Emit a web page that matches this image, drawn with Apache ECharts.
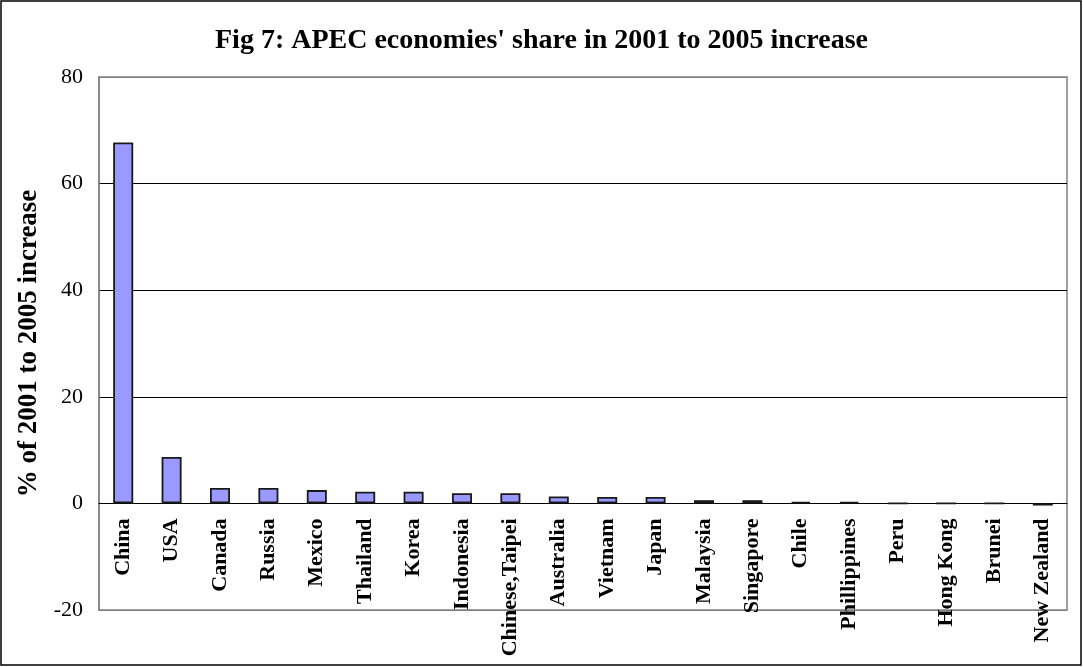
<!DOCTYPE html>
<html>
<head>
<meta charset="utf-8">
<script src="https://cdn.jsdelivr.net/npm/echarts@6/dist/echarts.min.js"></script>
<style>
html,body{margin:0;padding:0;background:#fff;}
#chart{width:1083px;height:667px;}
</style>
</head>
<body>
<div id="chart"></div>
<script>
var titleText = "Fig 7: APEC economies' share in 2001 to 2005 increase";
var yAxisTitle = "% of 2001 to 2005 increase";
var categories = ["China","USA","Canada","Russia","Mexico","Thailand","Korea","Indonesia","Chinese,Taipei","Australia","Vietnam","Japan","Malaysia","Singapore","Chile","Phillippines","Peru","Hong Kong","Brunei","New Zealand"];
var shares = [67.7, 8.7, 2.9, 2.9, 2.5, 2.2, 2.2, 1.9, 1.9, 1.3, 1.2, 1.2, 0.6, 0.6, 0.3, 0.3, 0, 0, 0, -0.4];
var yMin = -20, yMax = 80, yStep = 20;

var W = 1083, H = 667;
var gridLeft = 99, gridRight = 16, gridTop = 77, gridBottom = 57;
var plotH = H - gridTop - gridBottom;
// move the category axis (line + labels) up to the value-axis zero position
var zeroOffset = -((0 - yMin) / (yMax - yMin)) * plotH;

var chart = echarts.init(document.getElementById('chart'), null, {renderer: 'canvas'});
chart.setOption({
  animation: false,
  backgroundColor: '#fff',
  title: {
    text: titleText,
    left: 'center',
    top: 22,
    textStyle: {fontFamily: 'Liberation Serif', fontWeight: 'bold', fontSize: 28, color: '#000'}
  },
  graphic: [{
    type: 'rect',
    shape: {x: 1, y: 1, width: W - 3, height: H - 3},
    style: {fill: 'none', stroke: '#000', lineWidth: 1.5},
    silent: true, z: 100
  }],
  grid: {
    left: gridLeft, right: gridRight, top: gridTop, bottom: gridBottom,
    outerBoundsMode: 'none',
    containLabel: false,
    show: true, borderColor: '#808080', borderWidth: 1.5, backgroundColor: '#fff'
  },
  xAxis: {
    type: 'category',
    data: categories,
    position: 'bottom',
    offset: zeroOffset,
    axisLine: {onZero: false, lineStyle: {color: '#000', width: 1}},
    axisTick: {show: false},
    axisLabel: {
      interval: 0, rotate: 90, margin: 15,
      fontFamily: 'Liberation Serif', fontWeight: 'bold', fontSize: 22, color: '#000'
    }
  },
  yAxis: {
    type: 'value',
    min: yMin, max: yMax, interval: yStep,
    name: yAxisTitle,
    nameLocation: 'middle',
    nameGap: 55,
    nameTextStyle: {fontFamily: 'Liberation Serif', fontWeight: 'bold', fontSize: 27, color: '#000'},
    axisLine: {show: true, onZero: false, lineStyle: {color: '#808080', width: 1.5}},
    axisTick: {show: false},
    axisLabel: {margin: 16, fontFamily: 'Liberation Serif', fontSize: 22, color: '#000'},
    splitLine: {show: true, lineStyle: {color: ['#808080', '#000', '#000', '#000', '#000', '#808080'], width: 1}}
  },
  series: [{
    type: 'bar',
    data: shares,
    barWidth: 20,
    itemStyle: {color: '#9999FF', borderColor: '#1a1a1a', borderWidth: 1.8}
  }]
});
</script>
</body>
</html>
